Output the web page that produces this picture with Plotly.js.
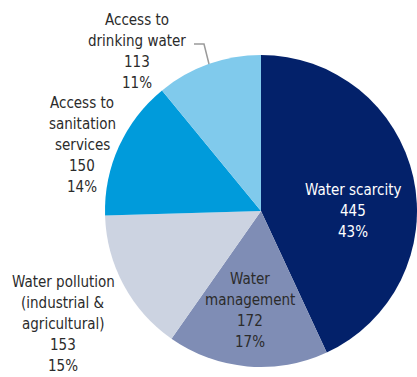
<!DOCTYPE html>
<html>
<head>
<meta charset="utf-8">
<script src="https://cdn.plot.ly/plotly-3.0.1.min.js"></script>
<style>
  html, body { margin: 0; padding: 0; background: #ffffff; }
  #chart { width: 417px; height: 377px; }
</style>
</head>
<body>
<div id="chart"></div>
<script>
// Categories, in clockwise order from 12 o'clock
const categories = [
  'Water scarcity',
  'Water management',
  'Water pollution (industrial & agricultural)',
  'Access to sanitation services',
  'Access to drinking water'
];
// Wrapped label text for each category
const labelLines = [
  ['Water scarcity'],
  ['Water', 'management'],
  ['Water pollution', '(industrial &', 'agricultural)'],
  ['Access to', 'sanitation', 'services'],
  ['Access to', 'drinking water']
];
const counts = [445, 172, 153, 150, 113];
const shares = ['43%', '17%', '15%', '14%', '11%'];
const sliceColors = ['#03216a', '#7f8db5', '#ccd3e1', '#009bdb', '#80caec'];

const W = 417, H = 377;
const px = x => x / W;
const py = y => 1 - y / H;

const FONT = 'DejaVu Sans Condensed, Noto Sans, sans-serif';
const LINE = 21; // pixel spacing between label lines

// centre of first label line (pixels) and text colour
const labelPos = [
  { x: 353, y: 190, color: '#ffffff' },
  { x: 250, y: 279, color: '#2b2b2b' },
  { x: 63,  y: 282, color: '#2b2b2b' },
  { x: 82,  y: 103, color: '#2b2b2b' },
  { x: 137, y: 20,  color: '#2b2b2b' }
];

const annotations = [];
categories.forEach((c, i) => {
  const lines = labelLines[i].concat([String(counts[i]), shares[i]]);
  lines.forEach((t, k) => {
    annotations.push({
      xref: 'paper', yref: 'paper',
      x: px(labelPos[i].x), y: py(labelPos[i].y + k * LINE),
      xanchor: 'center', yanchor: 'middle',
      showarrow: false,
      borderpad: 0,
      text: t,
      font: { family: FONT, size: 15, color: labelPos[i].color }
    });
  });
});

const data = [{
  type: 'pie',
  labels: categories,
  values: counts,
  sort: false,
  direction: 'clockwise',
  rotation: 0,
  textinfo: 'none',
  hoverinfo: 'none',
  marker: { colors: sliceColors, line: { width: 0 } },
  domain: { x: [px(105), 1], y: [py(367), py(55)] }
}];

const layout = {
  width: W, height: H,
  margin: { l: 0, r: 0, t: 0, b: 0 },
  paper_bgcolor: '#ffffff',
  showlegend: false,
  annotations: annotations,
  shapes: [{
    type: 'path',
    xref: 'paper', yref: 'paper',
    path: 'M ' + px(194) + ',' + py(44) + ' L ' + px(204) + ',' + py(44) + ' L ' + px(209) + ',' + py(64),
    line: { color: '#9a9a9a', width: 1.5 }
  }]
};

Plotly.newPlot('chart', data, layout, { displayModeBar: false, staticPlot: true });
</script>
</body>
</html>
